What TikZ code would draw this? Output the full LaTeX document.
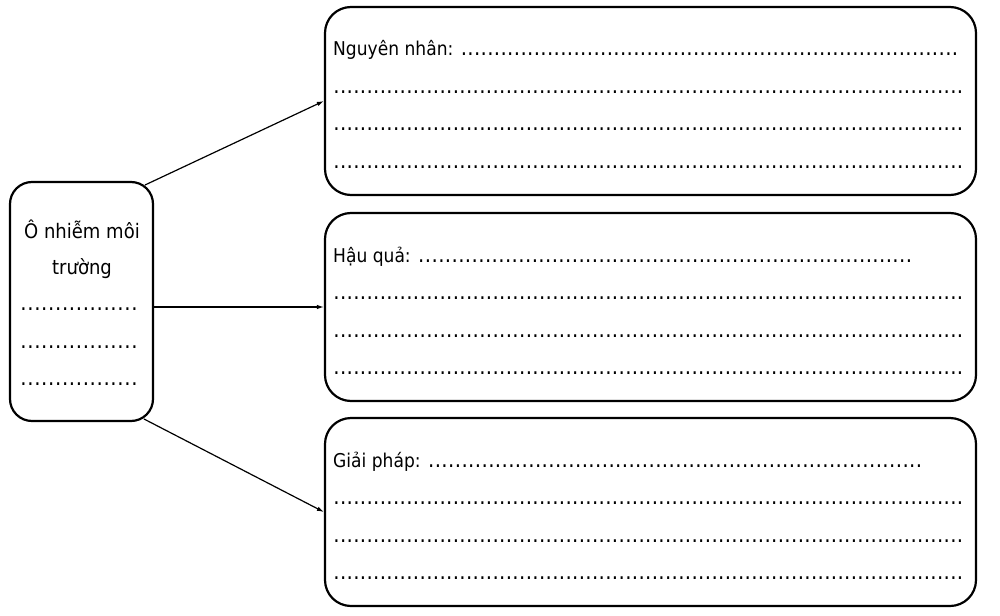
\documentclass[tikz,border=0pt]{standalone}
\usepackage{fontspec}
\setmainfont{DejaVu Sans}[FakeStretch=0.9]
\usetikzlibrary{arrows.meta}
\newcommand\dotleader{\xleaders\hbox to 6.6pt{\hss\fontsize{22}{24}\selectfont.\hss}\hfill}
\newcommand\fillrow[2]{\hbox to #1{#2\dotleader}}
\tikzset{
  x=1pt, y=-1pt,
  bigbox/.style={draw, line width=2.2pt, rounded corners=26pt, minimum width=651pt, minimum height=188pt, inner sep=0pt},
  srcbox/.style={draw, line width=2.2pt, rounded corners=22pt, minimum width=143pt, minimum height=239pt, inner sep=0pt},
  txt/.style={inner sep=0pt, anchor=base west, font=\fontsize{19}{22}\selectfont},
  srctxt/.style={inner sep=0pt, anchor=base, font=\fontsize{20}{24}\selectfont},
  conn/.style={line width=1.2pt, -{Latex[length=7pt,width=4.5pt]}},
}
\begin{document}
\begin{tikzpicture}
\useasboundingbox (0,0) rectangle (1000,615);
% boxes
\node[srcbox] (src) at (81.5,301.5) {};
\node[bigbox] (b1) at (650.5,101) {};
\node[bigbox] (b2) at (650.5,307) {};
\node[bigbox] (b3) at (650.5,512) {};
% left box text
\node[srctxt] (s1) at (82,238) {Ô nhiễm môi};
\node[srctxt] (s2) at (82,274) {trường};
\node[srctxt] (s3) at (79,310) {\fillrow{118pt}{}};
\node[srctxt] (s4) at (79,348) {\fillrow{118pt}{}};
\node[srctxt] (s5) at (79,385) {\fillrow{118pt}{}};
% box 1
\node[txt] (t11) at (333,56) {\fillrow{625pt}{Nguyên nhân: }};
\node[txt] (t12) at (333,93.5) {\fillrow{630pt}{}};
\node[txt] (t13) at (333,131) {\fillrow{630pt}{}};
\node[txt] (t14) at (333,168.5) {\fillrow{630pt}{}};
% box 2
\node[txt] (t21) at (333,262) {\fillrow{579pt}{Hậu quả: }};
\node[txt] (t22) at (333,299.5) {\fillrow{630pt}{}};
\node[txt] (t23) at (333,337) {\fillrow{630pt}{}};
\node[txt] (t24) at (333,374.5) {\fillrow{630pt}{}};
% box 3
\node[txt] (t31) at (333,467) {\fillrow{589pt}{Giải pháp: }};
\node[txt] (t32) at (333,504.5) {\fillrow{630pt}{}};
\node[txt] (t33) at (333,542) {\fillrow{630pt}{}};
\node[txt] (t34) at (333,579.5) {\fillrow{630pt}{}};
% connectors
\coordinate (a1) at (145,185);
\coordinate (a3) at (144,419);
\draw[conn] (a1) -- (b1.west);
\draw[conn] (src.east |- b2.west) -- (b2.west);
\draw[conn] (a3) -- (b3.west);
\end{tikzpicture}
\end{document}
